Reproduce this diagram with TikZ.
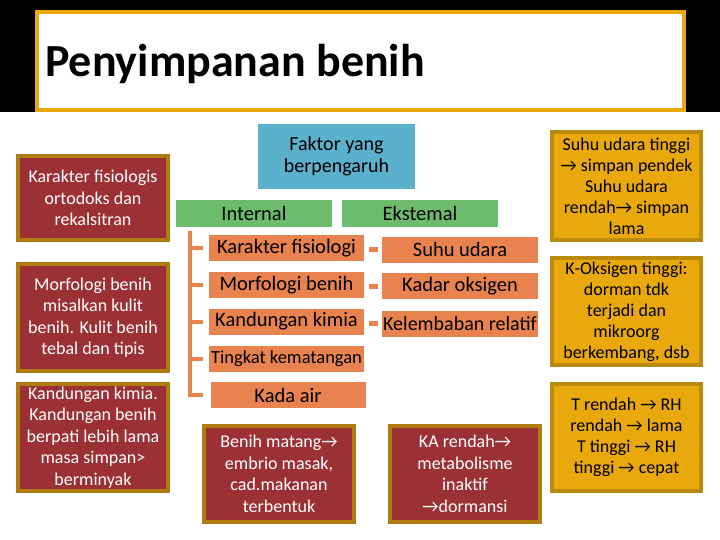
\documentclass[tikz,border=0pt]{standalone}
\usepackage{fontspec}
\setmainfont{Carlito}
\definecolor{redfill}{HTML}{9C3135}
\definecolor{redline}{HTML}{B07B10}
\definecolor{goldfill}{HTML}{E9A80B}
\definecolor{goldline}{HTML}{B98A0C}
\definecolor{orange1}{HTML}{E8834F}
\definecolor{green1}{HTML}{6CBC6B}
\definecolor{blue1}{HTML}{5BB0CC}
\begin{document}
\begin{tikzpicture}[x=1pt,y=-1pt]
  \def\w{150}
  \def\fs{20.5}

\tikzstyle{redbox}=[fill=redfill,draw=redline,line width=4pt,text=white,align=center,inner sep=0pt,minimum width=\w pt,font=\fontsize{18}{21.5}\selectfont]
\tikzstyle{goldbox}=[redbox,fill=goldfill,draw=goldline,text=black,minimum width=149pt,font=\fontsize{18}{21}\selectfont]
\tikzstyle{obox}=[fill=orange1,inner sep=0pt,minimum width=155pt,minimum height=26pt,font=\fontsize{\fs}{22}\selectfont]
\tikzstyle{gbox}=[obox,fill=green1,minimum width=156pt,minimum height=27pt]
\tikzstyle{bracket}=[draw=orange1,line width=4pt]
\tikzstyle{link}=[draw=orange1,line width=5pt,shorten <=5pt,shorten >=4pt]

\useasboundingbox (0,0) rectangle (720,540);
\fill[black] (0,0) rectangle (720,112);
\node[draw=goldfill,fill=white,line width=4pt,minimum width=647pt,minimum height=98pt,inner sep=0pt] (T) at (360.5,61) {};
\node[anchor=base west,inner sep=0pt,font=\fontsize{46}{50}\bfseries] (Tt) at (45,77) {Penyimpanan benih};

\node[redbox,minimum height=84pt] (R1) at (93,198) {Karakter fisiologis\\ortodoks dan\\rekalsitran};
\node[redbox,minimum height=107pt] (R2) at (93,317.5) {Morfologi benih\\misalkan kulit\\benih. Kulit benih\\tebal dan tipis};
\node[redbox,minimum height=107pt] (R3) at (93,437.5) {Kandungan kimia.\\Kandungan benih\\berpati lebih lama\\masa simpan>\\berminyak};

\node[obox,fill=blue1,minimum width=157pt,minimum height=65pt,align=center,font=\fontsize{20}{22}\selectfont] (F) at (336.5,156.5) {Faktor yang\\berpengaruh};
\node[gbox] (I) at (254,213.5) {Internal};
\node[gbox] (E) at (420,213.5) {Ekstemal};

\node[obox] (K1) at (286.5,248) {Karakter fisiologi};
\node[obox] (K2) at (286.5,285) {Morfologi benih};
\node[obox] (K3) at (286.5,321.5) {Kandungan kimia};
\node[obox,font=\fontsize{18.5}{22}\selectfont] (K4) at (286.5,358.5) {Tingkat kematangan};
\node[obox] (K5) at (288,395) {Kada air};

\node[obox,minimum width=156pt] (S1) at (460,249.5) {Suhu udara};
\node[obox,minimum width=156pt] (S2) at (460,286) {Kadar oksigen};
\node[obox,minimum width=156pt,font=\fontsize{20}{22}\selectfont] (S3) at (460,323.5) {Kelembaban relatif};

\coordinate (B) at (190,231);
\draw[bracket,shorten >=7pt] (B) |- (K5.west);
\draw[bracket,shorten >=6pt] (B |- K1.west) -- (K1.west);
\draw[bracket,shorten >=6pt] (B |- K2.west) -- (K2.west);
\draw[bracket,shorten >=6pt] (B |- K3.west) -- (K3.west);
\draw[bracket,shorten >=6pt] (B |- K4.west) -- (K4.west);

\draw[link] (S1.west -| K1.east) -- (S1.west);
\draw[link] (S2.west -| K2.east) -- (S2.west);
\draw[link] (S3.west -| K3.east) -- (S3.west);

\node[redbox,minimum height=96pt] (M1) at (279,474) {Benih matang→\\embrio masak,\\cad.makanan\\terbentuk};
\node[redbox,minimum height=96pt] (M2) at (465,474) {KA rendah→\\metabolisme\\inaktif\\→dormansi};

\node[goldbox,minimum height=108pt] (G1) at (626.5,186) {Suhu udara tinggi\\→ simpan pendek\\Suhu udara\\rendah→ simpan\\lama};
\node[goldbox,minimum height=107pt] (G2) at (626.5,311.5) {K-Oksigen tinggi:\\dorman tdk\\terjadi dan\\mikroorg\\berkembang, dsb};
\node[goldbox,minimum height=107pt] (G3) at (626.5,437.5) {T rendah → RH\\rendah → lama\\T tinggi → RH\\tinggi → cepat};
\end{tikzpicture}
\end{document}
